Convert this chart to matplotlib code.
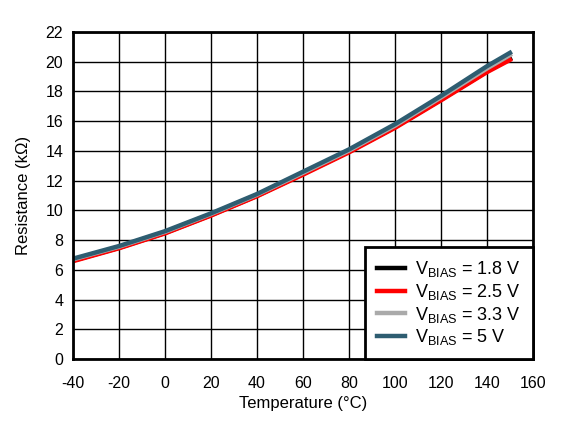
import matplotlib
matplotlib.use("Agg")
import matplotlib.pyplot as plt

plt.rcParams['font.family'] = ['Liberation Sans', 'DejaVu Sans']
plt.rcParams['axes.unicode_minus'] = False

# temperature points (°C)
temp = [-40, -20, 0, 20, 40, 60, 80, 100, 120, 140, 150]

# resistance (kOhm) per bias voltage
r_18 = [6.62, 7.48, 8.48, 9.68, 10.98, 12.45, 13.95, 15.6, 17.45, 19.35, 20.2]
r_25 = [6.58, 7.45, 8.45, 9.65, 10.95, 12.4, 13.9, 15.55, 17.4, 19.3, 20.12]
r_33 = [6.7, 7.55, 8.55, 9.75, 11.05, 12.52, 14.02, 15.7, 17.6, 19.55, 20.45]
r_50 = [6.75, 7.6, 8.6, 9.8, 11.1, 12.6, 14.1, 15.8, 17.7, 19.7, 20.6]

series = [
    (r_18, 'black', r'$\mathregular{V_{BIAS}}$ = 1.8 V'),
    (r_25, '#ff0000', r'$\mathregular{V_{BIAS}}$ = 2.5 V'),
    (r_33, '#aaaaaa', r'$\mathregular{V_{BIAS}}$ = 3.3 V'),
    (r_50, '#2e5d71', r'$\mathregular{V_{BIAS}}$ = 5 V'),
]

fig = plt.figure(figsize=(5.7, 4.25), dpi=100)
ax = fig.add_axes([0.128, 0.1553, 0.807, 0.7694])

for vals, col, lab in series:
    ax.plot(temp, vals, color=col, linewidth=3.2, label=lab)

ax.set_xlim(-40, 160)
ax.set_ylim(0, 22)
ax.set_xticks(range(-40, 161, 20))
ax.set_yticks(range(0, 23, 2))
ax.grid(True, color='black', linewidth=1)
ax.set_axisbelow(True)
for sp in ax.spines.values():
    sp.set_linewidth(2)
ax.tick_params(axis='both', labelsize=11.5, length=0)
ax.tick_params(axis='x', pad=12)
ax.tick_params(axis='y', pad=7)

ax.set_xlabel('Temperature (°C)', fontsize=12, labelpad=4)
ax.set_ylabel('Resistance (kΩ)', fontsize=12, labelpad=10)

leg = ax.legend(loc='lower right', fontsize=13, fancybox=False, framealpha=1,
                edgecolor='black', borderaxespad=0, handlelength=1.6,
                labelspacing=0.15, borderpad=0.65, handletextpad=0.55)
leg.get_frame().set_linewidth(2)

fig.savefig('out.png', dpi=100)
